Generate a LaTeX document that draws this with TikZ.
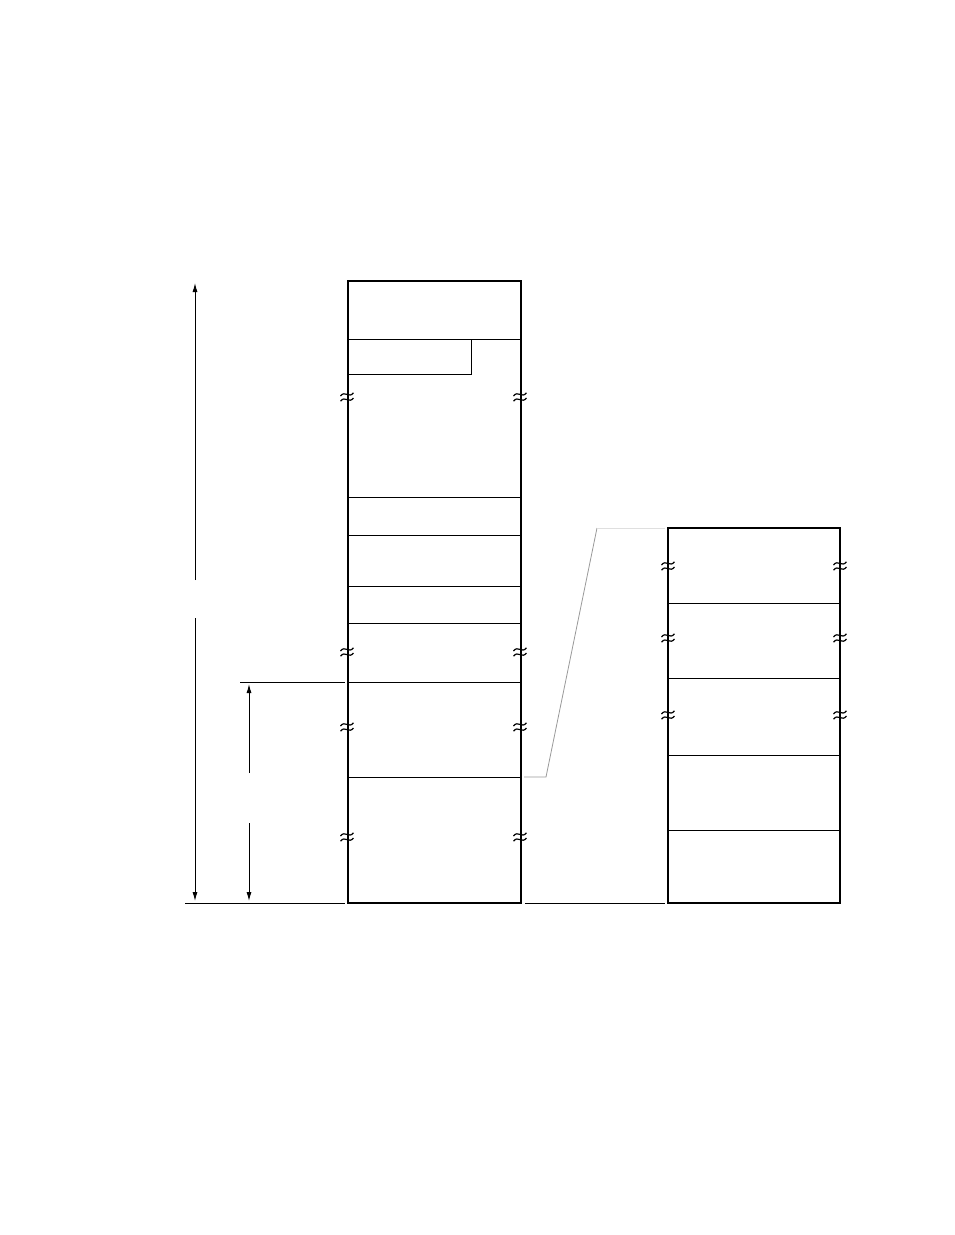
\documentclass[tikz,border=0pt]{standalone}
\usepackage{amsmath}
\usepackage{amssymb}
\usetikzlibrary{arrows.meta}
\tikzset{
  wall/.style={line width=1.8pt},
  rule/.style={line width=1pt},
  dim/.style={line width=1pt,-{Latex[length=9pt,width=5pt]}},
  brk/.pic={
    \foreach \d in {-2.6,2.6}
      \draw[line width=1.2pt] (-6.5,\d+1.6) .. controls (-2,\d-4.5) and (2,\d+4.5) .. (6.5,\d-1.6);
  },
}
\begin{document}
\begin{tikzpicture}[x=1pt,y=-1pt]
            \useasboundingbox (0,0) rectangle (954,1235);
            \draw[wall] (348,903) -- (348,281) -- (521,281) -- (521,903) -- cycle;
            \foreach \y in {339,497,535,586,623,682,777} \draw[rule] (348,\y) -- (521,\y);
            \draw[rule] (348,374) -- (471,374) -- (471,339);
            \draw[wall] (668,903) -- (668,528) -- (840,528) -- (840,903) -- cycle;
            \foreach \y in {603,678,755,830} \draw[rule] (668,\y) -- (840,\y);
            \coordinate (top) at (195,283);
            \coordinate (bot) at (195,901);
            \coordinate (mid) at (249,684);
            \coordinate (low) at (249,901);
            \draw[dim] (195,580) -- (top);
            \draw[dim] (195,618) -- (bot);
            \draw[dim] (249,773) -- (mid);
            \draw[dim] (249,823) -- (low);
            \draw[rule] (185,903) -- (345,903);
            \draw[rule] (240,682) -- (345,682);
            \draw[rule] (525,903) -- (665,903);
            \draw[gray!80,line width=0.8pt] (524,777) -- (546,777) -- (597,528);
            \draw[gray!25,line width=1pt] (597,528) -- (665,528);
            \foreach \y in {397,652,727,837} {
              \pic at (347,\y) {brk};
              \pic at (520,\y) {brk};
            }
            \foreach \y in {566,638,715} {
              \pic at (668,\y) {brk};
              \pic at (840,\y) {brk};
            }
        \end{tikzpicture}
\end{document}
